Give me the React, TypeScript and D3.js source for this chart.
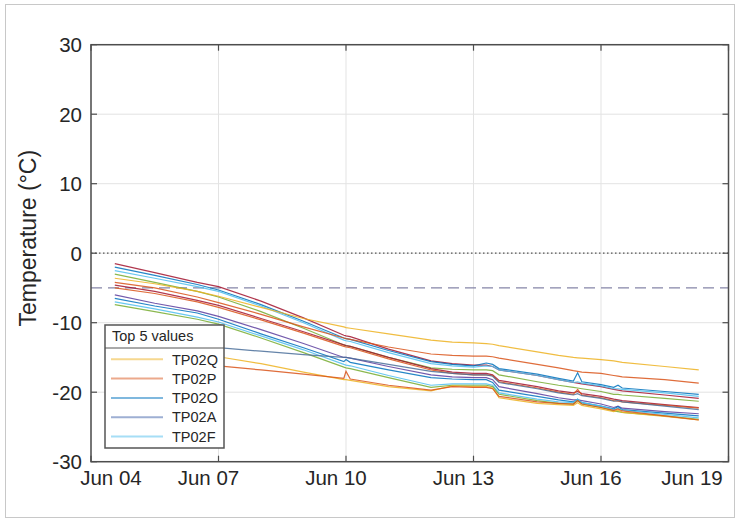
import React from "react";
import * as d3 from "d3";

// time axis: days after Jun 04 00:00
const START = new Date(2021, 5, 4);
const END = new Date(2021, 5, 19);
const dayOffsets = [0.56, 1.5, 2.5, 3, 4, 5, 5.95, 6, 6.1, 7, 8, 8.5, 9, 9.3, 9.45, 9.6, 10.5, 11, 11.35, 11.45, 11.55, 12, 12.3, 12.4, 12.5, 13.5, 14.3];

const xTickDays = [4, 7, 10, 13, 16, 19];
const yTicks = [-30, -20, -10, 0, 10, 20, 30];

// series values (°C)
const tp02Q = [-3.6, -4.4, -5.5, -6.2, -7.8, -9.4, -10.6, -10.7, -10.8, -11.6, -12.5, -12.8, -12.9, -13.0, -13.1, -13.3, -14.2, -14.7, -15.0, -15.05, -15.1, -15.3, -15.5, -15.6, -15.7, -16.3, -16.8];
const tp02P = [-4.2, -5.0, -6.3, -7.1, -8.8, -10.6, -12.2, -12.3, -12.4, -13.5, -14.5, -14.7, -14.8, -14.8, -14.9, -15.1, -16.0, -16.5, -16.9, -17.0, -17.1, -17.3, -17.6, -17.7, -17.8, -18.2, -18.7];
const tp02O = [-2.0, -3.2, -4.5, -5.3, -7.4, -9.8, -12.2, -12.3, -12.4, -14.0, -15.6, -16.0, -16.2, -15.8, -16.0, -16.6, -17.4, -18.0, -18.4, -17.2, -18.5, -18.9, -19.3, -19.0, -19.4, -19.9, -20.3];
const tp02F = [-2.5, -3.6, -4.8, -5.5, -7.6, -10.0, -12.5, -12.6, -12.7, -14.3, -15.9, -16.2, -16.4, -16.2, -16.3, -16.8, -17.6, -18.2, -18.6, -18.5, -18.7, -19.1, -19.5, -19.5, -19.6, -20.1, -20.6];
const tp02A = [-6.0, -7.2, -8.3, -9.1, -11.0, -13.0, -15.0, -15.0, -15.1, -16.3, -17.5, -17.8, -17.9, -17.9, -18.2, -19.2, -20.2, -20.8, -21.1, -21.1, -21.2, -21.7, -22.2, -22.0, -22.3, -22.8, -23.1];
const tp02B = [-1.5, -2.8, -4.2, -4.8, -6.9, -9.3, -11.8, -11.9, -12.0, -13.8, -15.5, -15.9, -16.1, -16.1, -16.3, -16.8, -17.6, -18.2, -18.6, -18.7, -18.8, -19.2, -19.6, -19.7, -19.8, -20.4, -20.9];
const tp02C = [-3.0, -4.2, -5.5, -6.3, -8.4, -10.8, -13.2, -13.3, -13.4, -15.0, -16.5, -16.7, -16.8, -16.8, -16.9, -17.5, -18.5, -19.0, -19.3, -19.4, -19.5, -19.9, -20.3, -20.3, -20.4, -20.9, -21.3];
const tp02D = [-5.0, -5.8, -7.0, -7.8, -9.6, -11.5, -13.4, -13.5, -13.6, -15.2, -16.8, -17.3, -17.5, -17.5, -17.6, -18.5, -19.4, -20.0, -20.3, -19.6, -20.4, -20.8, -21.2, -21.3, -21.4, -21.9, -22.3];
const tp02E = [-4.6, -5.5, -6.8, -7.5, -9.4, -11.3, -13.2, -13.3, -13.4, -15.0, -16.6, -17.1, -17.3, -17.3, -17.5, -18.3, -19.2, -19.8, -20.1, -19.9, -20.2, -20.6, -21.0, -21.1, -21.2, -21.8, -22.2];
const tp02G = [-6.5, -7.6, -8.6, -9.5, -11.6, -13.6, -15.6, -15.3, -15.7, -16.8, -17.9, -18.1, -18.2, -18.2, -18.6, -19.7, -20.6, -21.1, -21.4, -21.0, -21.5, -22.0, -22.4, -22.1, -22.5, -23.0, -23.4];
const tp02H = [-7.4, -8.4, -9.5, -10.2, -12.2, -14.3, -16.4, -16.5, -16.6, -17.9, -19.3, -19.0, -19.0, -19.0, -19.2, -20.3, -21.2, -21.6, -21.7, -21.2, -21.7, -22.2, -22.7, -22.8, -22.9, -23.4, -23.9];
const tp02I = [-7.0, -8.0, -9.2, -9.9, -11.9, -13.9, -16.0, -16.1, -16.2, -17.6, -19.0, -18.8, -18.8, -18.8, -19.0, -20.1, -21.0, -21.4, -21.5, -21.0, -21.5, -22.0, -22.5, -22.3, -22.6, -23.2, -23.7];
const tp02J = [-11.2, -12.4, -13.3, -13.6, -14.1, -14.6, -15.0, -15.0, -15.1, -16.0, -17.0, -17.3, -17.5, -17.5, -17.7, -18.6, -19.5, -20.1, -20.4, -20.2, -20.5, -20.9, -21.3, -21.2, -21.4, -22.0, -22.5];
const tp02K = [-12.0, -14.2, -15.7, -16.2, -16.8, -17.4, -18.0, -17.0, -18.1, -19.0, -19.7, -19.2, -19.3, -19.3, -19.5, -20.6, -21.4, -21.6, -21.7, -21.2, -21.7, -22.2, -22.6, -22.4, -22.7, -23.4, -24.0];
const tp02L = [-11.6, -13.2, -14.4, -14.9, -15.9, -17.1, -18.2, -18.2, -18.3, -19.2, -19.8, -19.1, -19.2, -19.2, -19.4, -20.8, -21.6, -21.8, -21.9, -21.5, -21.9, -22.4, -22.8, -22.6, -22.9, -23.5, -24.0];

const seriesNames = ["TP02B", "TP02O", "TP02F", "TP02C", "TP02Q", "TP02P", "TP02E", "TP02D", "TP02A", "TP02G", "TP02I", "TP02H", "TP02J", "TP02L", "TP02K"];
const seriesValues = [tp02B, tp02O, tp02F, tp02C, tp02Q, tp02P, tp02E, tp02D, tp02A, tp02G, tp02I, tp02H, tp02J, tp02L, tp02K];
const seriesColors = ["#A2142F", "#0072BD", "#4DBEEE", "#77AC30", "#EDB120", "#D95319", "#A2142F", "#D95319", "#5A3D9E", "#0072BD", "#4DBEEE", "#77AC30", "#4A6F9A", "#EDB120", "#D95319"];

const legendNames = ["TP02Q", "TP02P", "TP02O", "TP02A", "TP02F"];
const legendColors = ["#EDB120", "#D95319", "#0072BD", "#3D5FA8", "#4DBEEE"];

const W = 739;
const H = 522;
const FONT = "Liberation Sans, Arial, sans-serif";

const toDate = (d: number) => new Date(START.getTime() + d * 864e5);

export default function App() {
  const x = d3.scaleTime().domain([START, END]).range([91, 728.5]);
  const y = d3.scaleLinear().domain([-30, 30]).range([461.7, 44.7]);
  const [x0, x1] = x.range();
  const [y0, y1] = y.range();

  const line = d3
    .line<number>()
    .x((_, i) => x(toDate(dayOffsets[i])))
    .y((v) => y(v));

  const fmt = d3.timeFormat("%b %d");

  return (
    <div style={{ position: "fixed", left: 0, top: 0 }}>
      <svg width={W} height={H} style={{ display: "block", background: "#fff" }} fontFamily={FONT}>
        <rect x={5.5} y={4.5} width={729} height={513} fill="#fff" stroke="#c8c8c8" />

        {/* grid */}
        {yTicks.map((t) => (
          <line key={"gy" + t} x1={x0} x2={x1} y1={y(t)} y2={y(t)} stroke="#e3e3e3" />
        ))}
        {xTickDays.map((d) => {
          const xx = x(new Date(2021, 5, d));
          return <line key={"gx" + d} x1={xx} x2={xx} y1={y1} y2={y0} stroke="#e3e3e3" />;
        })}

        {/* reference lines */}
        <line x1={x0} x2={x1} y1={y(0)} y2={y(0)} stroke="#555" strokeWidth={1.2} strokeDasharray="1.5,2.5" />
        <line x1={x0} x2={x1} y1={y(-5)} y2={y(-5)} stroke="#8585a8" strokeWidth={1.3} strokeDasharray="11,6" />

        {/* series */}
        {seriesValues.map((vals, i) => (
          <path
            key={seriesNames[i]}
            d={line(vals) ?? ""}
            fill="none"
            stroke={seriesColors[i]}
            strokeWidth={1.2}
            strokeOpacity={0.85}
          />
        ))}

        {/* axes box and ticks */}
        <rect x={x0} y={y1} width={x1 - x0} height={y0 - y1} fill="none" stroke="#4d4d4d" strokeWidth={1.5} />
        {yTicks.map((t) => (
          <g key={"ty" + t}>
            <line x1={x0} x2={x0 + 6} y1={y(t)} y2={y(t)} stroke="#4d4d4d" strokeWidth={1.2} />
            <line x1={x1} x2={x1 - 6} y1={y(t)} y2={y(t)} stroke="#4d4d4d" strokeWidth={1.2} />
            <text x={82} y={y(t)} dy="0.36em" textAnchor="end" fontSize={20.5} fill="#262626">
              {t}
            </text>
          </g>
        ))}
        {xTickDays.map((d) => {
          const date = new Date(2021, 5, d);
          const xx = x(date);
          const cx = Math.min(Math.max(xx - 10, 111), 692);
          return (
            <g key={"tx" + d}>
              <line x1={xx} x2={xx} y1={y0} y2={y0 - 6} stroke="#4d4d4d" strokeWidth={1.2} />
              <line x1={xx} x2={xx} y1={y1} y2={y1 + 6} stroke="#4d4d4d" strokeWidth={1.2} />
              <text x={cx} y={485} textAnchor="middle" fontSize={20.5} fill="#262626">
                {fmt(date)}
              </text>
            </g>
          );
        })}
        <text
          transform={`translate(36,${(y0 + y1) / 2 - 15}) rotate(-90)`}
          textAnchor="middle"
          fontSize={23}
          fill="#262626"
        >
          Temperature (°C)
        </text>

        {/* legend */}
        <g>
          <rect x={105} y={325} width={119} height={123} fill="#fff" stroke="#555" strokeWidth={1.5} />
          <line x1={105} x2={224} y1={348} y2={348} stroke="#555" strokeWidth={1} />
          <text x={112} y={341} fontSize={14.5} fill="#262626">
            Top 5 values
          </text>
          {legendNames.map((n, i) => {
            const ly = 359.3 + i * 19.3;
            return (
              <g key={n}>
                <line x1={111} x2={163} y1={ly} y2={ly} stroke={legendColors[i]} strokeWidth={2} strokeOpacity={0.5} />
                <text x={172} y={ly} dy="0.36em" fontSize={14.5} fill="#262626">
                  {n}
                </text>
              </g>
            );
          })}
        </g>
      </svg>
    </div>
  );
}
